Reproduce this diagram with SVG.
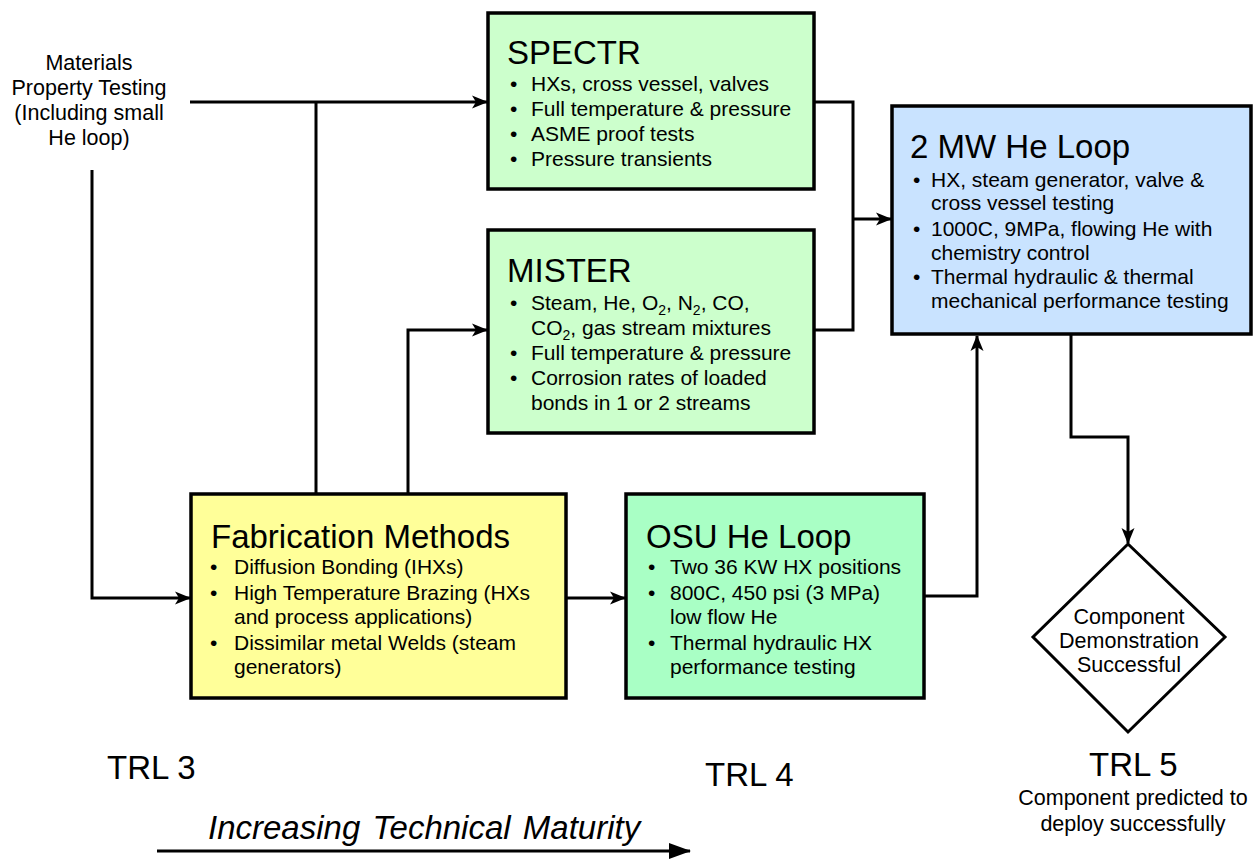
<svg xmlns="http://www.w3.org/2000/svg" width="1258" height="859" viewBox="0 0 1258 859">
  <style>
    text { font-family: "Liberation Sans", Arial, sans-serif; fill: #000; }
    .box { stroke: #000; stroke-width: 3.5; }
    .title { font-size: 33px; }
    .item { font-size: 21px; }
    .note { font-size: 21.5px; }
    .trl { font-size: 33px; }
    .wire { fill: none; stroke: #000; stroke-width: 3; stroke-linejoin: miter; }
    .sub { font-size: 14px; }
  </style>
  <defs>
    <marker id="arrow" markerUnits="userSpaceOnUse" markerWidth="16" markerHeight="14" refX="15" refY="7" orient="auto">
      <path d="M0,0.5 L16,7 L0,13.5 L4,7 z" fill="#000"/>
    </marker>
    <marker id="arrow-big" markerUnits="userSpaceOnUse" markerWidth="22" markerHeight="18" refX="21" refY="9" orient="auto">
      <path d="M0,1 L22,9 L0,17 z" fill="#000"/>
    </marker>
  </defs>

  <rect width="1258" height="859" fill="#fff"/>

  <!-- connectors -->
  <g id="connectors">
    <path class="wire" d="M190,102 H487" marker-end="url(#arrow)"/>
    <path class="wire" d="M316,102 V494"/>
    <path class="wire" d="M408,494 V330 H487" marker-end="url(#arrow)"/>
    <path class="wire" d="M92,170 V598 H190" marker-end="url(#arrow)"/>
    <path class="wire" d="M566,598 H625" marker-end="url(#arrow)"/>
    <path class="wire" d="M924,596 H977 V336" marker-end="url(#arrow)"/>
    <path class="wire" d="M815,102 H853 V330 H815"/>
    <path class="wire" d="M853,219 H891" marker-end="url(#arrow)"/>
    <path class="wire" d="M1071,335 V437 H1128 V543" marker-end="url(#arrow)"/>
    <path class="wire" d="M157,851 H690" stroke-width="3.5" marker-end="url(#arrow-big)"/>
  </g>

  <!-- source text -->
  <g id="materials">
    <text class="note" text-anchor="middle" x="89" y="70">Materials</text>
    <text class="note" text-anchor="middle" x="89" y="95">Property Testing</text>
    <text class="note" text-anchor="middle" x="89" y="120">(Including small</text>
    <text class="note" text-anchor="middle" x="89" y="145">He loop)</text>
  </g>

  <g id="spectr">
    <rect class="box" x="488" y="13" width="326" height="176" fill="#CCFFCC"/>
    <text class="title" x="507" y="64">SPECTR</text>
    <g class="item">
      <text x="510" y="91">•</text><text x="531" y="91">HXs, cross vessel, valves</text>
      <text x="510" y="116">•</text><text x="531" y="116">Full temperature &amp; pressure</text>
      <text x="510" y="141">•</text><text x="531" y="141">ASME proof tests</text>
      <text x="510" y="166">•</text><text x="531" y="166">Pressure transients</text>
    </g>
  </g>

  <g id="mister">
    <rect class="box" x="488" y="230" width="326" height="203" fill="#CCFFCC"/>
    <text class="title" x="507" y="282">MISTER</text>
    <g class="item">
      <text x="510" y="310">•</text><text x="531" y="310">Steam, He, O<tspan class="sub" dy="5">2</tspan><tspan dy="-5">, N</tspan><tspan class="sub" dy="5">2</tspan><tspan dy="-5">, CO,</tspan></text>
      <text x="531" y="335">CO<tspan class="sub" dy="5">2</tspan><tspan dy="-5">, gas stream mixtures</tspan></text>
      <text x="510" y="360">•</text><text x="531" y="360">Full temperature &amp; pressure</text>
      <text x="510" y="385">•</text><text x="531" y="385">Corrosion rates of loaded</text>
      <text x="531" y="410">bonds in 1 or 2 streams</text>
    </g>
  </g>

  <g id="he-loop-2mw">
    <rect class="box" x="892" y="106" width="359" height="228" fill="#C9E3FF"/>
    <text class="title" x="910" y="158">2 MW  He Loop</text>
    <g class="item">
      <text x="913" y="187">•</text><text x="931" y="187">HX, steam generator, valve &amp;</text>
      <text x="931" y="210">cross vessel testing</text>
      <text x="913" y="236">•</text><text x="931" y="236">1000C, 9MPa, flowing He with</text>
      <text x="931" y="260">chemistry control</text>
      <text x="913" y="284">•</text><text x="931" y="284">Thermal hydraulic &amp; thermal</text>
      <text x="931" y="308">mechanical performance testing</text>
    </g>
  </g>

  <g id="fabrication">
    <rect class="box" x="191" y="494" width="375" height="204" fill="#FFFF99"/>
    <text class="title" x="211" y="548">Fabrication  Methods</text>
    <g class="item">
      <text x="210" y="574">•</text><text x="234" y="574">Diffusion Bonding (IHXs)</text>
      <text x="210" y="600">•</text><text x="234" y="600">High Temperature Brazing (HXs</text>
      <text x="234" y="624">and process applications)</text>
      <text x="210" y="650">•</text><text x="234" y="650">Dissimilar metal Welds (steam</text>
      <text x="234" y="674">generators)</text>
    </g>
  </g>

  <g id="osu-he-loop">
    <rect class="box" x="626" y="494" width="298" height="204" fill="#A9FFC5"/>
    <text class="title" x="646" y="548">OSU He Loop</text>
    <g class="item">
      <text x="648" y="574">•</text><text x="670" y="574">Two 36 KW HX positions</text>
      <text x="648" y="600">•</text><text x="670" y="600">800C, 450 psi (3 MPa)</text>
      <text x="670" y="624">low flow He</text>
      <text x="648" y="650">•</text><text x="670" y="650">Thermal hydraulic HX</text>
      <text x="670" y="674">performance testing</text>
    </g>
  </g>

  <g id="demonstration">
    <polygon points="1128,544 1225,637 1128,732 1033,637" fill="#fff" stroke="#000" stroke-width="3"/>
    <text class="note" text-anchor="middle" x="1129" y="624" font-size="21">Component</text>
    <text class="note" text-anchor="middle" x="1129" y="648" font-size="21">Demonstration</text>
    <text class="note" text-anchor="middle" x="1129" y="672" font-size="21">Successful</text>
  </g>

  <g id="maturity-scale">
    <text class="trl" x="107" y="779">TRL 3</text>
    <text class="trl" x="705" y="786">TRL 4</text>
    <text class="trl" x="1089" y="776">TRL 5</text>
    <text class="note" text-anchor="middle" x="1133" y="805">Component predicted to</text>
    <text class="note" text-anchor="middle" x="1133" y="831">deploy successfully</text>
    <text class="trl" x="208" y="839" font-size="32" font-style="italic" word-spacing="3">Increasing Technical Maturity</text>
  </g>
</svg>
